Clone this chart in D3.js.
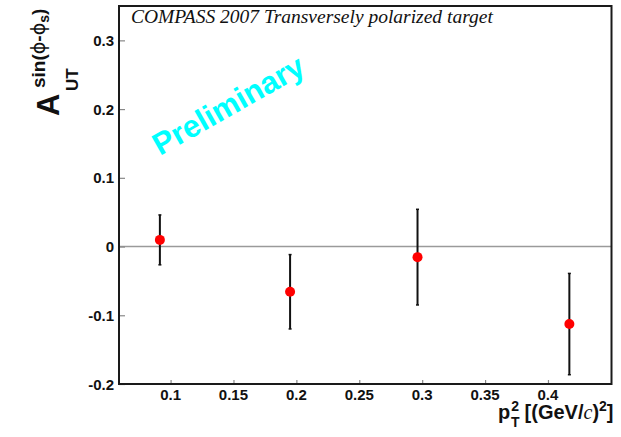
<!DOCTYPE html>
<html>
<head>
<meta charset="utf-8">
<script src="https://cdn.jsdelivr.net/npm/d3@7"></script>
<style>
  html, body { margin: 0; padding: 0; background: #fff; }
  svg { display: block; }
  .tick-label { font-family: "Liberation Sans", Arial, sans-serif; font-weight: bold; font-size: 15px; fill: #111; }
</style>
</head>
<body>
<svg id="chart" width="621" height="437"></svg>
<script>
// Sivers-type asymmetry vs pT^2
const ptSquared  = [0.0915, 0.195, 0.2963, 0.417];
const asymmetry  = [0.0097, -0.0658, -0.0154, -0.1128];
const statError  = [0.0363, 0.0541, 0.0696, 0.0737];

const xTickValues = [0.1, 0.15, 0.2, 0.25, 0.3, 0.35, 0.4];
const xTickLabels = ["0.1", "0.15", "0.2", "0.25", "0.3", "0.35", "0.4"];
const yTickValues = [-0.2, -0.1, 0, 0.1, 0.2, 0.3];
const yTickLabels = ["-0.2", "-0.1", "0", "0.1", "0.2", "0.3"];

const titleText = "COMPASS 2007 Transversely polarized target";
const stampText = "Preliminary";

const svg = d3.select("#chart");
const frame = { left: 119, right: 611.5, top: 6, bottom: 384 };

const x = d3.scaleLinear().domain([0.059, 0.4505]).range([frame.left, frame.right]);
const y = d3.scaleLinear().domain([-0.2, 0.35]).range([frame.bottom, frame.top]);

// zero reference line
svg.append("line")
  .attr("x1", frame.left).attr("x2", frame.right)
  .attr("y1", y(0)).attr("y2", y(0))
  .attr("stroke", "#9a9a9a").attr("stroke-width", 1.6);

// axes: short inward gray ticks, labels drawn separately
const xAxis = d3.axisBottom(x).tickValues(xTickValues).tickSize(-4).tickFormat("");
const gx = svg.append("g").attr("transform", `translate(0,${frame.bottom})`).call(xAxis);
gx.select(".domain").remove();
gx.selectAll(".tick line").attr("stroke", "#888").attr("stroke-width", 1.2);

const yAxis = d3.axisLeft(y).tickValues(yTickValues).tickSize(-6).tickFormat("");
const gy = svg.append("g").attr("transform", `translate(${frame.left},0)`).call(yAxis);
gy.select(".domain").remove();
gy.selectAll(".tick line").attr("stroke", "#888").attr("stroke-width", 1.2);

svg.append("g").selectAll("text").data(xTickValues).join("text")
  .attr("class", "tick-label")
  .attr("x", d => x(d)).attr("y", 400)
  .attr("text-anchor", "middle")
  .text((d, i) => xTickLabels[i]);

svg.append("g").selectAll("text").data(yTickValues).join("text")
  .attr("class", "tick-label")
  .attr("x", 114).attr("y", d => y(d) + 5.5)
  .attr("text-anchor", "end")
  .text((d, i) => yTickLabels[i]);

// frame
svg.append("rect")
  .attr("x", frame.left).attr("y", frame.top)
  .attr("width", frame.right - frame.left).attr("height", frame.bottom - frame.top)
  .attr("fill", "none").attr("stroke", "#1a1a1a").attr("stroke-width", 2);

// title inside the frame
svg.append("text")
  .attr("x", 131).attr("y", 23)
  .attr("font-family", "Liberation Serif, Times New Roman, serif")
  .attr("font-style", "italic").attr("font-size", 19.5).attr("fill", "#111")
  .text(titleText);

// rotated stamp
svg.append("text")
  .attr("transform", "translate(160,156) rotate(-29.5)")
  .attr("font-family", "Liberation Sans, Arial, sans-serif")
  .attr("font-weight", "bold").attr("font-size", 31).attr("fill", "#00ffff")
  .text(stampText);

// error bars
const pts = ptSquared.map((p, i) => ({ p, a: asymmetry[i], e: statError[i] }));
const eb = svg.append("g").selectAll("g").data(pts).join("g");
eb.append("line")
  .attr("x1", d => x(d.p)).attr("x2", d => x(d.p))
  .attr("y1", d => y(d.a + d.e)).attr("y2", d => y(d.a - d.e))
  .attr("stroke", "#111").attr("stroke-width", 2);
eb.append("line")
  .attr("x1", d => x(d.p) - 1.5).attr("x2", d => x(d.p) + 1.5)
  .attr("y1", d => y(d.a + d.e)).attr("y2", d => y(d.a + d.e))
  .attr("stroke", "#111").attr("stroke-width", 1.5);
eb.append("line")
  .attr("x1", d => x(d.p) - 1.5).attr("x2", d => x(d.p) + 1.5)
  .attr("y1", d => y(d.a - d.e)).attr("y2", d => y(d.a - d.e))
  .attr("stroke", "#111").attr("stroke-width", 1.5);

// markers
svg.append("g").selectAll("circle").data(pts).join("circle")
  .attr("cx", d => x(d.p)).attr("cy", d => y(d.a))
  .attr("r", 5).attr("fill", "#ff0000");

// x-axis title: p_T^2 [(GeV/c)^2]
const xt = svg.append("text")
  .attr("x", 498).attr("y", 419)
  .attr("font-family", "Liberation Sans, Arial, sans-serif")
  .attr("font-weight", "bold").attr("font-size", 20).attr("fill", "#111");
xt.append("tspan").text("p");
xt.append("tspan").attr("font-size", 14).attr("dx", 1).attr("dy", -8).text("2");
xt.append("tspan").attr("font-size", 14).attr("dx", -8).attr("dy", 16).text("T");
xt.append("tspan").attr("dx", 5).attr("dy", -8).text("[(GeV/");
xt.append("tspan").attr("font-family", "Liberation Serif, Times New Roman, serif")
  .attr("font-style", "italic").attr("font-weight", "normal").text("c");
xt.append("tspan").text(")");
xt.append("tspan").attr("font-size", 14).attr("dy", -8).text("2");
xt.append("tspan").attr("dy", 8).text("]");

// y-axis title: A_UT^{sin(phi-phi_S)}, each piece rotated in place
const yFont = "Liberation Sans, Arial, sans-serif";
svg.append("text")
  .attr("transform", "translate(59,116) rotate(-90)")
  .attr("font-family", yFont).attr("font-weight", "bold")
  .attr("font-size", 31).attr("fill", "#111").text("A");
svg.append("text")
  .attr("transform", "translate(78,91) rotate(-90)")
  .attr("font-family", yFont).attr("font-weight", "bold")
  .attr("font-size", 17).attr("fill", "#111").text("UT");
const sup = svg.append("text")
  .attr("transform", "translate(45,88) rotate(-90)")
  .attr("font-family", yFont).attr("font-weight", "bold")
  .attr("font-size", 19).attr("fill", "#111");
sup.append("tspan").text("sin(");
sup.append("tspan").attr("font-family", "DejaVu Sans, sans-serif").attr("font-weight", "normal").text("ϕ");
sup.append("tspan").text("-");
sup.append("tspan").attr("font-family", "DejaVu Sans, sans-serif").attr("font-weight", "normal").text("ϕ");
sup.append("tspan").attr("font-size", 14).attr("dy", 4).text("s");
sup.append("tspan").attr("dy", -4).text(")");
</script>
</body>
</html>
